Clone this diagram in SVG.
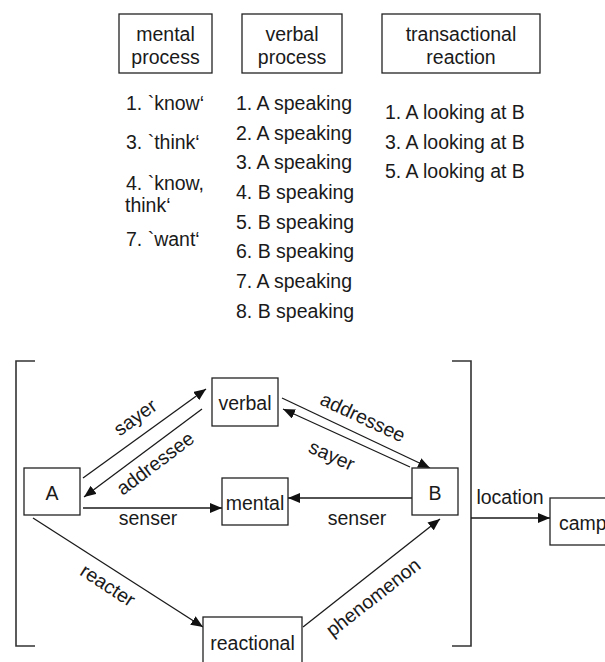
<svg xmlns="http://www.w3.org/2000/svg" width="605" height="662" viewBox="0 0 605 662">
<style>
text{font-family:"Liberation Sans",Arial,sans-serif;font-size:19.5px;fill:#1a1a1a}
.box{fill:#fff;stroke:#222;stroke-width:1.3}
.c{text-anchor:middle}
.lbl{text-anchor:middle;dominant-baseline:central}
.edge{stroke:#1a1a1a;stroke-width:1.3;fill:none;marker-end:url(#ah)}
.br{stroke:#333;stroke-width:1.6;fill:none}
</style>
<defs>
<marker id="ah" markerUnits="userSpaceOnUse" markerWidth="12" markerHeight="10" refX="12" refY="5" orient="auto">
<path d="M0,0 L12,5 L0,10 z" fill="#111"/>
</marker>
</defs>
<rect width="605" height="662" fill="#fff"/>

<g id="hdr-mental"><rect class="box" x="119" y="14" width="93" height="59"/><text class="c" x="165.5" y="40.5">mental</text><text class="c" x="165.5" y="63.5">process</text></g>
<g id="hdr-verbal"><rect class="box" x="242" y="14" width="100" height="59"/><text class="c" x="292" y="40.5">verbal</text><text class="c" x="292" y="63.5">process</text></g>
<g id="hdr-trans"><rect class="box" x="382" y="14" width="158" height="59"/><text class="c" x="461" y="40.5">transactional</text><text class="c" x="461" y="63.5">reaction</text></g>

<g id="list-mental">
<text x="126" y="110">1. `know‘</text>
<text x="126" y="149">3. `think‘</text>
<text x="126" y="190">4. `know,</text>
<text x="125" y="212">think‘</text>
<text x="126" y="246">7. `want‘</text>
</g>
<g id="list-verbal">
<text x="236" y="110">1. A speaking</text>
<text x="236" y="140">2. A speaking</text>
<text x="236" y="169">3. A speaking</text>
<text x="236" y="199">4. B speaking</text>
<text x="236" y="229">5. B speaking</text>
<text x="236" y="258">6. B speaking</text>
<text x="236" y="288">7. A speaking</text>
<text x="236" y="318">8. B speaking</text>
</g>
<g id="list-trans">
<text x="385" y="119">1. A looking at B</text>
<text x="385" y="149">3. A looking at B</text>
<text x="385" y="178">5. A looking at B</text>
</g>

<g id="brackets">
<path class="br" d="M35,361 L16,361 L16,646 L35,646"/>
<path class="br" d="M452,361 L471,361 L471,646 L452,646"/>
</g>

<g id="connectors">
<path class="edge" d="M83,478 L206,389"/>
<path class="edge" d="M202,409 L84,497"/>
<path class="edge" d="M83,508 L222,508"/>
<path class="edge" d="M33,518 L203,627"/>
<path class="edge" d="M282,398 L430,468"/>
<path class="edge" d="M410,467 L283,409"/>
<path class="edge" d="M412,498 L288,498"/>
<path class="edge" d="M303,627 L440,519"/>
<path class="edge" d="M471,518 L550,518"/>
<text class="lbl" x="135" y="417" transform="rotate(-36 135 417)">sayer</text>
<text class="lbl" x="155" y="463" transform="rotate(-37 155 463)">addressee</text>
<text class="c" x="148" y="525">senser</text>
<text class="lbl" x="108" y="585" transform="rotate(33 108 585)">reacter</text>
<text class="lbl" x="363" y="417" transform="rotate(25 363 417)">addressee</text>
<text class="lbl" x="332" y="455" transform="rotate(24 332 455)">sayer</text>
<text class="c" x="357" y="525">senser</text>
<text class="lbl" x="373" y="597" transform="rotate(-38 373 597)">phenomenon</text>
<text class="c" x="510" y="504">location</text>
</g>

<g id="node-A"><rect class="box" x="24" y="468" width="56" height="47"/><text class="c" x="52" y="500">A</text></g>
<g id="node-verbal"><rect class="box" x="212" y="378" width="66" height="48"/><text class="c" x="245" y="410">verbal</text></g>
<g id="node-mental"><rect class="box" x="222" y="478" width="66" height="47"/><text class="c" x="255" y="510">mental</text></g>
<g id="node-B"><rect class="box" x="412" y="468" width="46" height="47"/><text class="c" x="435" y="500">B</text></g>
<g id="node-camp"><rect class="box" x="550" y="498" width="70" height="47"/><text x="559" y="530">camp</text></g>
<g id="node-reactional"><rect class="box" x="203" y="617" width="99" height="60"/><text class="c" x="252.5" y="650">reactional</text></g>
</svg>
